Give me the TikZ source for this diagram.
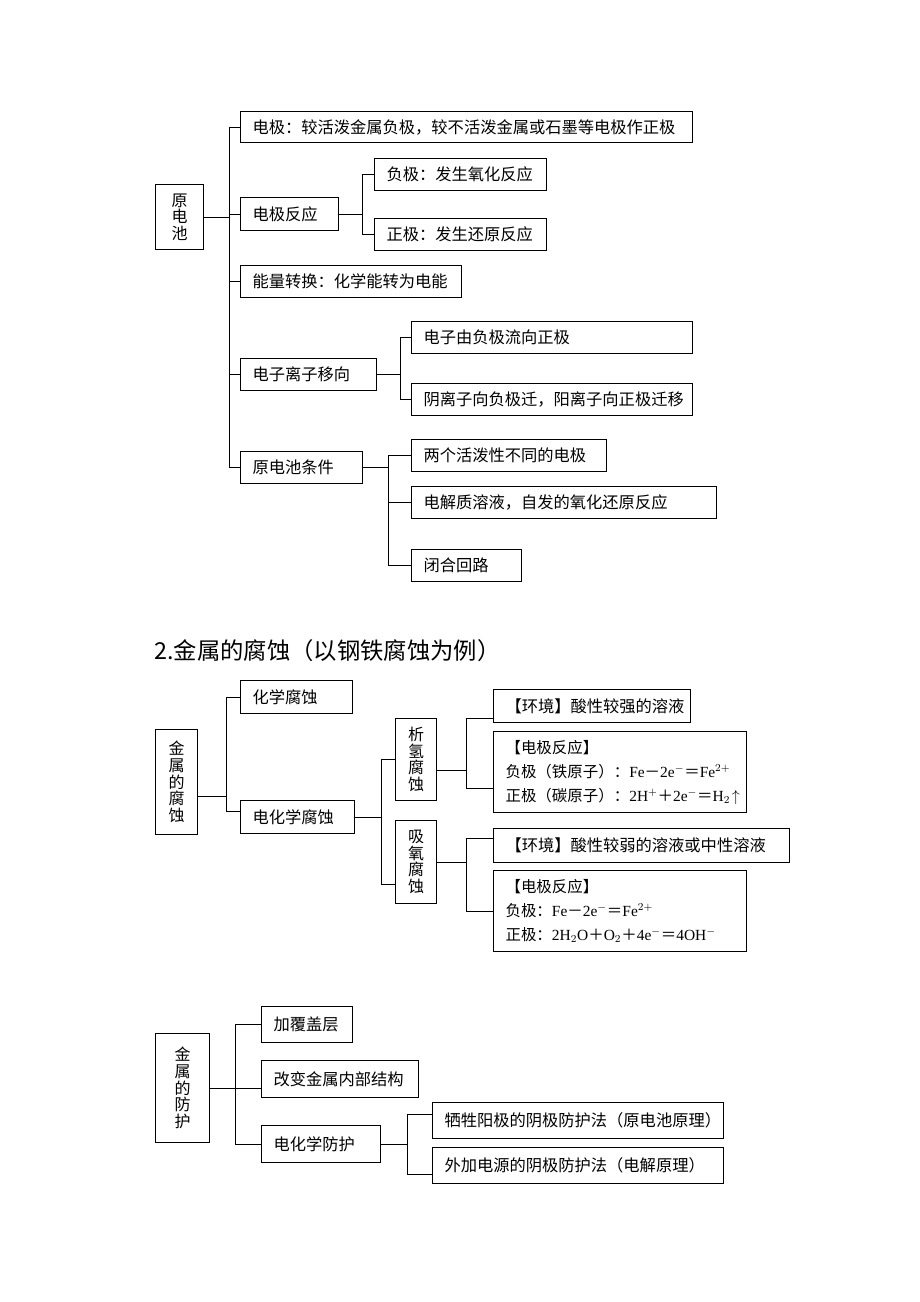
\documentclass[tikz,border=0pt]{standalone}
\usepackage{fontspec}
\setmainfont{Noto Sans CJK SC}
\newfontfamily\latfont{Liberation Serif}
\newcommand\lat[1]{{\latfont #1}}

\begin{document}
\begin{tikzpicture}[x=0.75pt,y=-0.75pt]
\useasboundingbox (0,0) rectangle (920,1302);

\tikzset{BoxStyle/.style = {
 draw,
 line width = 0.8pt,
 anchor = north west,
 inner xsep = 9pt,
 inner ysep = 0pt,
 align = left,
 font = \fontsize{12.2}{18}\selectfont} }
\tikzset{BoxSize/.style 2 args = {text width = #1*0.75pt-18pt, minimum height = #2*0.75pt} }
\tikzset{EqStyle/.style = {font = \fontsize{11.6}{18}\selectfont} }
\tikzset{RootStyle/.style = {
 draw,
 line width = 0.8pt,
 anchor = north west,
 inner sep = 0pt,
 align = center,
 font = \fontsize{12}{12.5}\selectfont} }
\tikzset{RootSize/.style 2 args = {minimum width = #1*0.75pt, minimum height = #2*0.75pt} }
\tikzset{LinkStyle/.style = {line width = 0.75pt} }

\coordinate (T1) at (229, 0);
\coordinate (T12) at (362, 0);
\coordinate (T14) at (400, 0);
\coordinate (T15) at (388, 0);
\coordinate (T2) at (226, 0);
\coordinate (T22) at (381, 0);
\coordinate (T23) at (466, 0);
\coordinate (T3) at (235, 0);
\coordinate (T33) at (407, 0);

% 原电池
\node[RootStyle, RootSize={48}{65}] (Yuan) at (155, 184) {原\\电\\池};
\node[BoxStyle, BoxSize={452}{31}] (A1) at (240, 111) {电极：较活泼金属负极，较不活泼金属或石墨等电极作正极};
\node[BoxStyle, BoxSize={98}{33}] (A2) at (240, 197) {电极反应};
\node[BoxStyle, BoxSize={172}{32}] (A21) at (374, 158) {负极：发生氧化反应};
\node[BoxStyle, BoxSize={172}{32}] (A22) at (374, 218) {正极：发生还原反应};
\node[BoxStyle, BoxSize={221}{32}] (A3) at (240, 265) {能量转换：化学能转为电能};
\node[BoxStyle, BoxSize={136}{32}] (A4) at (240, 358) {电子离子移向};
\node[BoxStyle, BoxSize={281}{32}] (A41) at (411, 321) {电子由负极流向正极};
\node[BoxStyle, BoxSize={281}{32}] (A42) at (411, 383) {阴离子向负极迁，阳离子向正极迁移};
\node[BoxStyle, BoxSize={122}{32}] (A5) at (240, 451) {原电池条件};
\node[BoxStyle, BoxSize={195}{32}] (A51) at (411, 439) {两个活泼性不同的电极};
\node[BoxStyle, BoxSize={305}{32}] (A52) at (411, 486) {电解质溶液，自发的氧化还原反应};
\node[BoxStyle, BoxSize={110}{32}] (A53) at (411, 549) {闭合回路};

\draw[LinkStyle] (Yuan.east) -- (Yuan.east -| T1);
\draw[LinkStyle] (T1 |- A1.west) -- (T1 |- A5.west);
\foreach \n in {A1,A2,A3,A4,A5}
  \draw[LinkStyle] (T1 |- \n.west) -- (\n.west);
\draw[LinkStyle] (A2.east) -- (A2.east -| T12);
\draw[LinkStyle] (T12 |- A21.west) -- (T12 |- A22.west);
\foreach \n in {A21,A22}
  \draw[LinkStyle] (T12 |- \n.west) -- (\n.west);
\draw[LinkStyle] (A4.east) -- (A4.east -| T14);
\draw[LinkStyle] (T14 |- A41.west) -- (T14 |- A42.west);
\foreach \n in {A41,A42}
  \draw[LinkStyle] (T14 |- \n.west) -- (\n.west);
\draw[LinkStyle] (A5.east) -- (A5.east -| T15);
\draw[LinkStyle] (T15 |- A51.west) -- (T15 |- A53.west);
\foreach \n in {A51,A52,A53}
  \draw[LinkStyle] (T15 |- \n.west) -- (\n.west);

% 金属的腐蚀
\node[anchor=west, font=\fontsize{17.5}{20}\selectfont, inner sep=0pt] (Title2) at (154, 651) {2.金属的腐蚀（以钢铁腐蚀为例）};
\node[RootStyle, RootSize={42}{105}] (Fushi) at (155, 729) {金\\属\\的\\腐\\蚀};
\node[BoxStyle, BoxSize={112}{33}] (B1) at (240, 680) {化学腐蚀};
\node[BoxStyle, BoxSize={114}{33}] (B2) at (240, 800) {电化学腐蚀};
\node[RootStyle, RootSize={41}{82}] (B21) at (395, 718) {析\\氢\\腐\\蚀};
\node[RootStyle, RootSize={41}{83}] (B22) at (395, 820) {吸\\氧\\腐\\蚀};
\node[BoxStyle, BoxSize={197}{33}] (B211) at (493, 689) {【环境】酸性较强的溶液};
\node[BoxStyle, EqStyle, BoxSize={253}{81}] (B212) at (493, 731) {【电极反应】\\负极（铁原子）：\lat{Fe}－\lat{2e}$^{-}$＝\lat{Fe}$^{2+}$\\正极（碳原子）：\lat{2H}$^{+}$＋\lat{2e}$^{-}$＝\lat{H}$_{2}\!\uparrow$};
\node[BoxStyle, BoxSize={296}{34}] (B221) at (493, 828) {【环境】酸性较弱的溶液或中性溶液};
\node[BoxStyle, EqStyle, BoxSize={253}{81}] (B222) at (493, 870) {【电极反应】\\负极：\lat{Fe}－\lat{2e}$^{-}$＝\lat{Fe}$^{2+}$\\正极：\lat{2H}$_{2}$\lat{O}＋\lat{O}$_{2}$＋\lat{4e}$^{-}$＝\lat{4OH}$^{-}$};

\draw[LinkStyle] ([yshift=-11pt]Fushi.east) -- ([yshift=-11pt]Fushi.east -| T2);
\draw[LinkStyle] (T2 |- B1.west) -- ([yshift=4pt]T2 |- B2.west);
\draw[LinkStyle] (T2 |- B1.west) -- (B1.west);
\draw[LinkStyle] ([yshift=4pt]T2 |- B2.west) -- ([yshift=4pt]B2.west);
\draw[LinkStyle] (B2.east) -- (B2.east -| T22);
\draw[LinkStyle] (T22 |- B21.west) -- ([yshift=-17pt]T22 |- B22.west);
\draw[LinkStyle] (T22 |- B21.west) -- (B21.west);
\draw[LinkStyle] ([yshift=-17pt]T22 |- B22.west) -- ([yshift=-17pt]B22.west);
\draw[LinkStyle] ([yshift=-8pt]B21.east) -- ([yshift=-8pt]B21.east -| T23);
\draw[LinkStyle] ([yshift=-9pt]T23 |- B211.west) -- ([yshift=-12pt]T23 |- B212.west);
\draw[LinkStyle] ([yshift=-9pt]T23 |- B211.west) -- ([yshift=-9pt]B211.west);
\draw[LinkStyle] ([yshift=-12pt]T23 |- B212.west) -- ([yshift=-12pt]B212.west);
\draw[LinkStyle] (B22.east) -- (B22.east -| T23);
\draw[LinkStyle] ([yshift=5pt]T23 |- B221.west) -- (T23 |- B222.west);
\draw[LinkStyle] ([yshift=5pt]T23 |- B221.west) -- ([yshift=5pt]B221.west);
\draw[LinkStyle] (T23 |- B222.west) -- (B222.west);

% 金属的防护
\node[RootStyle, RootSize={54}{109}] (Fanghu) at (155, 1033) {金\\属\\的\\防\\护};
\node[BoxStyle, BoxSize={91}{36}] (C1) at (261, 1006) {加覆盖层};
\node[BoxStyle, BoxSize={157}{37}] (C2) at (261, 1060) {改变金属内部结构};
\node[BoxStyle, BoxSize={119}{37}] (C3) at (261, 1125) {电化学防护};
\node[BoxStyle, BoxSize={291}{36}] (C31) at (432, 1102) {牺牲阳极的阴极防护法（原电池原理）};
\node[BoxStyle, BoxSize={291}{36}] (C32) at (432, 1147) {外加电源的阴极防护法（电解原理）};

\draw[LinkStyle] (Fanghu.east) -- (Fanghu.east -| C2.west);
\draw[LinkStyle] (T3 |- C1.west) -- (T3 |- C3.west);
\foreach \n in {C1,C3}
  \draw[LinkStyle] (T3 |- \n.west) -- (\n.west);
\draw[LinkStyle] (C3.east) -- (C3.east -| T33);
\draw[LinkStyle] ([yshift=4.5pt]T33 |- C31.west) -- ([yshift=-6.5pt]T33 |- C32.west);
\draw[LinkStyle] ([yshift=4.5pt]T33 |- C31.west) -- ([yshift=4.5pt]C31.west);
\draw[LinkStyle] ([yshift=-6.5pt]T33 |- C32.west) -- ([yshift=-6.5pt]C32.west);

\end{tikzpicture}
\end{document}
